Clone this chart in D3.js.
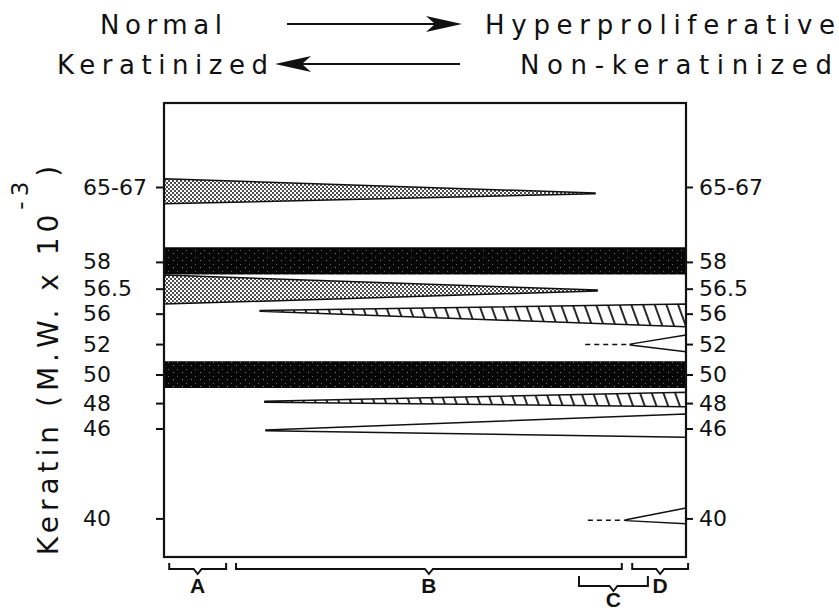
<!DOCTYPE html>
<html>
<head>
<meta charset="utf-8">
<script src="https://cdn.jsdelivr.net/npm/d3@7"></script>
<style>
  body { margin: 0; background: #fff; }
  svg { display: block; }
</style>
</head>
<body>
<div id="chart"></div>
<script>
// keratin bands; mobility = % of lane height from the top of the box
const bandLabels   = ['65-67', '58', '56.5', '56', '52', '50', '48', '46', '40'];
const tickMobility = [18.5, 35.0, 40.9, 46.4, 53.1, 59.8, 66.1, 71.7, 91.5];

// along the lane: 0 = normal, 100 = hyperproliferative
const bandFill   = ['dots', 'solid', 'dots', 'hatch', 'open', 'solid', 'hatch', 'open', 'open'];
const bandWide   = ['left', 'both', 'left', 'right', 'right', 'both', 'right', 'right', 'right'];
const bandStart  = [0, 0, 0, 18.4, 89.3, 0, 19.3, 19.5, 88.5];
const bandEnd    = [82.6, 100, 83, 100, 100, 100, 100, 100, 100];
const bandTop    = [16.7, 31.8, 37.9, 44.3, 51.1, 56.9, 63.7, 68.5, 89.2];
const bandBottom = [22.2, 37.8, 44.3, 49.3, 54.8, 62.8, 66.9, 73.6, 92.7];
const bandTip    = [19.9, null, 41.3, 45.8, 53.2, null, 65.8, 72.1, 91.9];
const traceStart = [null, null, null, null, 80.7, null, null, null, 81.2];

const groups    = ['A', 'B', 'C', 'D'];
const groupFrom = [1.0, 13.8, 79.5, 89.7];
const groupTo   = [11.9, 87.7, 92.7, 100.4];
const groupRow  = [0, 0, 1, 0];

const width = 839;
const height = 611;
const box = { left: 164, right: 686, top: 103, bottom: 557 };

const svg = d3.select('#chart')
  .append('svg')
  .attr('width', width)
  .attr('height', height);

const x = d3.scaleLinear().domain([0, 100]).range([box.left, box.right]);
const y = d3.scaleLinear().domain([0, 100]).range([box.top, box.bottom]);

// fills
const defs = svg.append('defs');

const solid = defs.append('pattern')
  .attr('id', 'solid')
  .attr('patternUnits', 'userSpaceOnUse')
  .attr('width', 9).attr('height', 7);
solid.append('rect').attr('width', 9).attr('height', 7).attr('fill', '#070707');
solid.append('rect').attr('x', 2).attr('y', 1).attr('width', 1).attr('height', 1).attr('fill', '#8a8a8a');
solid.append('rect').attr('x', 6).attr('y', 5).attr('width', 1).attr('height', 1).attr('fill', '#666');

const dots = defs.append('pattern')
  .attr('id', 'dots')
  .attr('patternUnits', 'userSpaceOnUse')
  .attr('width', 4).attr('height', 4);
dots.append('rect').attr('width', 4).attr('height', 4).attr('fill', '#fff');
dots.append('circle').attr('cx', 1).attr('cy', 1).attr('r', 1).attr('fill', '#111');
dots.append('circle').attr('cx', 3).attr('cy', 3).attr('r', 1).attr('fill', '#111');

const hatch = defs.append('pattern')
  .attr('id', 'hatch')
  .attr('patternUnits', 'userSpaceOnUse')
  .attr('width', 11).attr('height', 11)
  .attr('patternTransform', 'rotate(-20)');
hatch.append('rect').attr('width', 11).attr('height', 11).attr('fill', '#fff');
hatch.append('line').attr('x1', 5).attr('x2', 5).attr('y1', 0).attr('y2', 11)
  .attr('stroke', '#111').attr('stroke-width', 1.8);

// header
const header = svg.append('g')
  .style('font-family', '"DejaVu Sans", sans-serif')
  .style('font-size', '26px')
  .attr('fill', '#111');

header.append('text').attr('x', 100).attr('y', 34).attr('textLength', 122).attr('lengthAdjust', 'spacing').text('Normal');
header.append('text').attr('x', 485).attr('y', 34).attr('textLength', 350).attr('lengthAdjust', 'spacing').text('Hyperproliferative');
header.append('text').attr('x', 57).attr('y', 74).attr('textLength', 211).attr('lengthAdjust', 'spacing').text('Keratinized');
header.append('text').attr('x', 520).attr('y', 74).attr('textLength', 312).attr('lengthAdjust', 'spacing').text('Non-keratinized');

header.append('line').attr('x1', 287).attr('x2', 440).attr('y1', 24).attr('y2', 24)
  .attr('stroke', '#111').attr('stroke-width', 2);
header.append('path').attr('d', 'M462,24 L426,16 L435,24 L426,32 Z');
header.append('line').attr('x1', 298).attr('x2', 460).attr('y1', 64).attr('y2', 64)
  .attr('stroke', '#111').attr('stroke-width', 2);
header.append('path').attr('d', 'M275,64 L311,56 L302,64 L311,72 Z');

// bands
const bands = bandLabels.map((label, i) => ({
  label,
  fill: bandFill[i],
  wide: bandWide[i],
  start: bandStart[i],
  end: bandEnd[i],
  top: bandTop[i],
  bottom: bandBottom[i],
  tip: bandTip[i],
  trace: traceStart[i]
}));

function bandPath(d) {
  if (d.wide === 'both') {
    return `M${x(d.start)},${y(d.top)}H${x(d.end)}V${y(d.bottom)}H${x(d.start)}Z`;
  }
  if (d.wide === 'left') {
    return `M${x(d.start)},${y(d.top)}L${x(d.end)},${y(d.tip) - 0.4}L${x(d.end)},${y(d.tip) + 0.4}L${x(d.start)},${y(d.bottom)}Z`;
  }
  return `M${x(d.start)},${y(d.tip) - 0.4}L${x(d.end)},${y(d.top)}L${x(d.end)},${y(d.bottom)}L${x(d.start)},${y(d.tip) + 0.4}Z`;
}

const fillOf = { dots: 'url(#dots)', solid: 'url(#solid)', hatch: 'url(#hatch)', open: '#fff' };

svg.append('g')
  .selectAll('path')
  .data(bands)
  .enter()
  .append('path')
  .attr('d', bandPath)
  .attr('fill', d => fillOf[d.fill])
  .attr('stroke', '#111')
  .attr('stroke-width', d => d.fill === 'solid' ? 0 : 1.5)
  .attr('stroke-linejoin', 'round');

svg.append('g')
  .selectAll('line')
  .data(bands.filter(d => d.trace !== null))
  .enter()
  .append('line')
  .attr('x1', d => x(d.trace))
  .attr('x2', d => x(d.start))
  .attr('y1', d => y(d.tip))
  .attr('y2', d => y(d.tip))
  .attr('stroke', '#111')
  .attr('stroke-width', 1.5)
  .attr('stroke-dasharray', '5,4');

// frame
svg.append('rect')
  .attr('x', box.left).attr('y', box.top)
  .attr('width', box.right - box.left).attr('height', box.bottom - box.top)
  .attr('fill', 'none')
  .attr('stroke', '#111')
  .attr('stroke-width', 2.2);

// axes
const leftAxis = d3.axisLeft(y)
  .tickValues(tickMobility)
  .tickFormat((d, i) => bandLabels[i])
  .tickSize(8);

const rightAxis = d3.axisRight(y)
  .tickValues(tickMobility)
  .tickFormat((d, i) => bandLabels[i])
  .tickSize(7);

const gl = svg.append('g')
  .attr('transform', `translate(${box.left}, 0)`)
  .call(leftAxis);

const gr = svg.append('g')
  .attr('transform', `translate(${box.right}, 0)`)
  .call(rightAxis);

[gl, gr].forEach(g => {
  g.select('.domain').remove();
  g.selectAll('line').attr('stroke', '#111').attr('stroke-width', 2);
  g.selectAll('text')
    .attr('fill', '#111')
    .style('font-family', '"DejaVu Sans", sans-serif')
    .style('font-size', '22px')
    .attr('text-anchor', 'start');
});
gl.selectAll('text').attr('x', 83 - box.left);
gr.selectAll('text').attr('x', 13);

// y title
const title = svg.append('text')
  .attr('transform', 'translate(58, 358) rotate(-90)')
  .attr('text-anchor', 'middle')
  .attr('fill', '#111')
  .style('font-family', '"DejaVu Sans", sans-serif')
  .style('font-size', '28px')
  .style('letter-spacing', '5px');
title.append('tspan').text('Keratin (M.W. x 10');
title.append('tspan').attr('dy', -30).style('font-size', '23px').text('-3');
title.append('tspan').attr('dy', 30).text(')');

// group brackets under the lane
const rowLine = [569, 586];
const rowRise = [6, 10];

const brackets = groups.map((g, i) => ({
  g, from: groupFrom[i], to: groupTo[i], row: groupRow[i]
}));

const bg = svg.append('g');

bg.selectAll('path')
  .data(brackets)
  .enter()
  .append('path')
  .attr('d', d => {
    const x0 = x(d.from), x1 = x(d.to), xm = (x0 + x1) / 2;
    const yl = rowLine[d.row], r = rowRise[d.row];
    return `M${x0},${yl - r}V${yl}H${xm - 4}L${xm},${yl + 5}L${xm + 4},${yl}H${x1}V${yl - r}`;
  })
  .attr('fill', 'none')
  .attr('stroke', '#111')
  .attr('stroke-width', 2);

bg.selectAll('text')
  .data(brackets)
  .enter()
  .append('text')
  .attr('x', d => (x(d.from) + x(d.to)) / 2)
  .attr('y', d => rowLine[d.row] + (d.row ? 21 : 24))
  .attr('text-anchor', 'middle')
  .attr('fill', '#111')
  .style('font-family', '"Liberation Sans", sans-serif')
  .style('font-weight', 'bold')
  .style('font-size', '21px')
  .text(d => d.g);
</script>
</body>
</html>
